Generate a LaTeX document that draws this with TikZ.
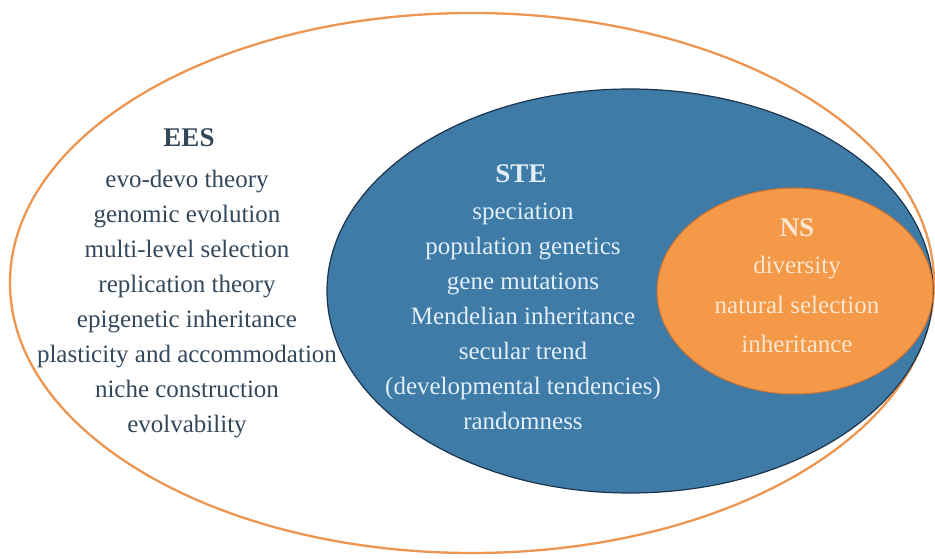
\documentclass[tikz,border=0pt]{standalone}
\usepackage{fontspec}
\setmainfont{Liberation Serif}
\definecolor{outerC}{RGB}{236,150,82}
\definecolor{blueF}{RGB}{62,124,167}
\definecolor{blueD}{RGB}{28,52,78}
\definecolor{nsF}{RGB}{243,153,72}
\definecolor{nsD}{RGB}{205,112,48}
\definecolor{eesT}{RGB}{52,72,92}
\definecolor{steT}{RGB}{226,238,248}
\definecolor{nsT}{RGB}{252,230,208}
\tikzset{
  title/.style={font=\bfseries\fontsize{27}{30}\selectfont, anchor=center, inner sep=0pt},
  listtxt/.style={font=\fontsize{25}{35}\selectfont, align=center, anchor=north, inner sep=0pt},
}
\begin{document}
\begin{tikzpicture}[x=1pt,y=-1pt]
\useasboundingbox (0,0) rectangle (935,559);
\fill[white] (0,0) rectangle (935,559);
% outer EES ellipse
\draw[outerC, line width=2.3pt] (472,283) ellipse [x radius=462, y radius=270];
% STE ellipse
\draw[blueD, fill=blueF, line width=1.2pt] (630,291) ellipse [x radius=303, y radius=202];
% NS ellipse
\draw[nsD, fill=nsF, line width=1pt] (795,291) ellipse [x radius=138, y radius=103];
% EES text
\node[title, text=eesT] (ees) at (189,138) {EES};
\node[listtxt, text=eesT] (eeslist) at (187,170) {evo-devo theory\\genomic evolution\\multi-level selection\\replication theory\\epigenetic inheritance\\plasticity and accommodation\\niche construction\\evolvability};
% STE text
\node[title, text=steT] (ste) at (521,174) {STE};
\node[listtxt, text=steT] (stelist) at (523,203) {speciation\\population genetics\\gene mutations\\Mendelian inheritance\\secular trend\\(developmental tendencies)\\randomness};
% NS text
\node[title, text=nsT] (ns) at (797,228) {NS};
\node[listtxt, text=nsT, font=\fontsize{25}{39.5}\selectfont] (nslist) at (797,256) {diversity\\natural selection\\inheritance};
\end{tikzpicture}
\end{document}
